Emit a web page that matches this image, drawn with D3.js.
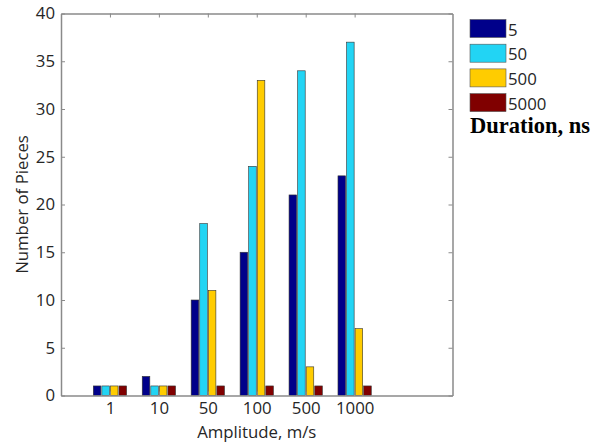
<!DOCTYPE html>
<html><head><meta charset="utf-8">
<script src="https://cdn.jsdelivr.net/npm/d3@7"></script>
<style>body{margin:0;background:#fff}svg{display:block}</style>
</head><body>
<svg id="c" width="610" height="445"></svg>
<script>
const categories = ["1","10","50","100","500","1000"];
const seriesNames = ["5","50","500","5000"];
const s5    = [1, 2, 10, 15, 21, 23];
const s50   = [1, 1, 18, 24, 34, 37];
const s500  = [1, 1, 11, 33, 3, 7];
const s5000 = [1, 1, 1, 1, 1, 1];
const yTicks = [0,5,10,15,20,25,30,35,40];
const colors = ["#00008a","#22d4f4","#ffcc00","#800000"];
const series = [s5, s50, s500, s5000];

const svg = d3.select("#c");
const L = 61, R = 452.5, T = 13.5, B = 395.5;
const x = d3.scaleLinear().domain([0, 8]).range([L, R]);
const y = d3.scaleLinear().domain([0, 40]).range([B, T]);
const font = "'Open Sans', sans-serif";
const fs = "16.8px";
const axisCol = "#8a8a8a", textCol = "#262626";

// bars
const offsets = [-0.2625, -0.0875, 0.0875, 0.2625];
const bw = 0.155;
series.forEach((vals, si) => {
  svg.append("g").selectAll("rect").data(vals).join("rect")
    .attr("x", (d, i) => x(i + 1 + offsets[si] - bw / 2))
    .attr("width", x(bw) - x(0))
    .attr("y", d => y(d))
    .attr("height", d => y(0) - y(d))
    .attr("fill", colors[si])
    .attr("stroke", "#333")
    .attr("stroke-width", 0.6);
});

// axes box
const catTicks = categories.map((c, i) => i + 1);
const gB = svg.append("g").attr("transform", `translate(0,${B})`)
  .call(d3.axisBottom(x).tickValues(catTicks).tickFormat((d, i) => categories[i]).tickSizeInner(-4).tickSizeOuter(0).tickPadding(7));
const gT = svg.append("g").attr("transform", `translate(0,${T})`)
  .call(d3.axisTop(x).tickValues(catTicks).tickFormat("").tickSizeInner(-4).tickSizeOuter(0));
const gL = svg.append("g").attr("transform", `translate(${L},0)`)
  .call(d3.axisLeft(y).tickValues(yTicks).tickSizeInner(-4).tickSizeOuter(0).tickPadding(6));
const gR = svg.append("g").attr("transform", `translate(${R},0)`)
  .call(d3.axisRight(y).tickValues(yTicks).tickFormat("").tickSizeInner(-4).tickSizeOuter(0));
[gB, gT, gL, gR].forEach(g => {
  g.select(".domain").attr("stroke", axisCol).attr("stroke-width", 1.5);
  g.selectAll(".tick line").attr("stroke", axisCol);
  g.selectAll("text").attr("fill", textCol).style("font-family", font).style("font-size", fs);
});

// axis titles
svg.append("text").attr("x", (L + R) / 2).attr("y", 438).attr("text-anchor", "middle")
  .attr("fill", textCol).style("font-family", font).style("font-size", fs).text("Amplitude, m/s");
svg.append("text").attr("transform", `translate(28,${(T + B) / 2}) rotate(-90)`).attr("text-anchor", "middle")
  .attr("fill", textCol).style("font-family", font).style("font-size", fs).text("Number of Pieces");

// legend
const lg = svg.append("g").attr("transform", "translate(470,19.5)");
seriesNames.forEach((n, i) => {
  lg.append("rect").attr("x", 0).attr("y", i * 24.7).attr("width", 36).attr("height", 18)
    .attr("fill", colors[i]).attr("stroke", "#555").attr("stroke-width", 0.6);
  lg.append("text").attr("x", 38).attr("y", i * 24.7 + 16).attr("fill", textCol)
    .style("font-family", font).style("font-size", fs).text(n);
});
svg.append("text").attr("x", 470).attr("y", 132.5).attr("fill", "#000")
  .style("font-family", "'Liberation Serif', 'Times New Roman', serif").style("font-weight", "bold")
  .style("font-size", "22.5px").text("Duration, ns");
</script>
</body></html>
